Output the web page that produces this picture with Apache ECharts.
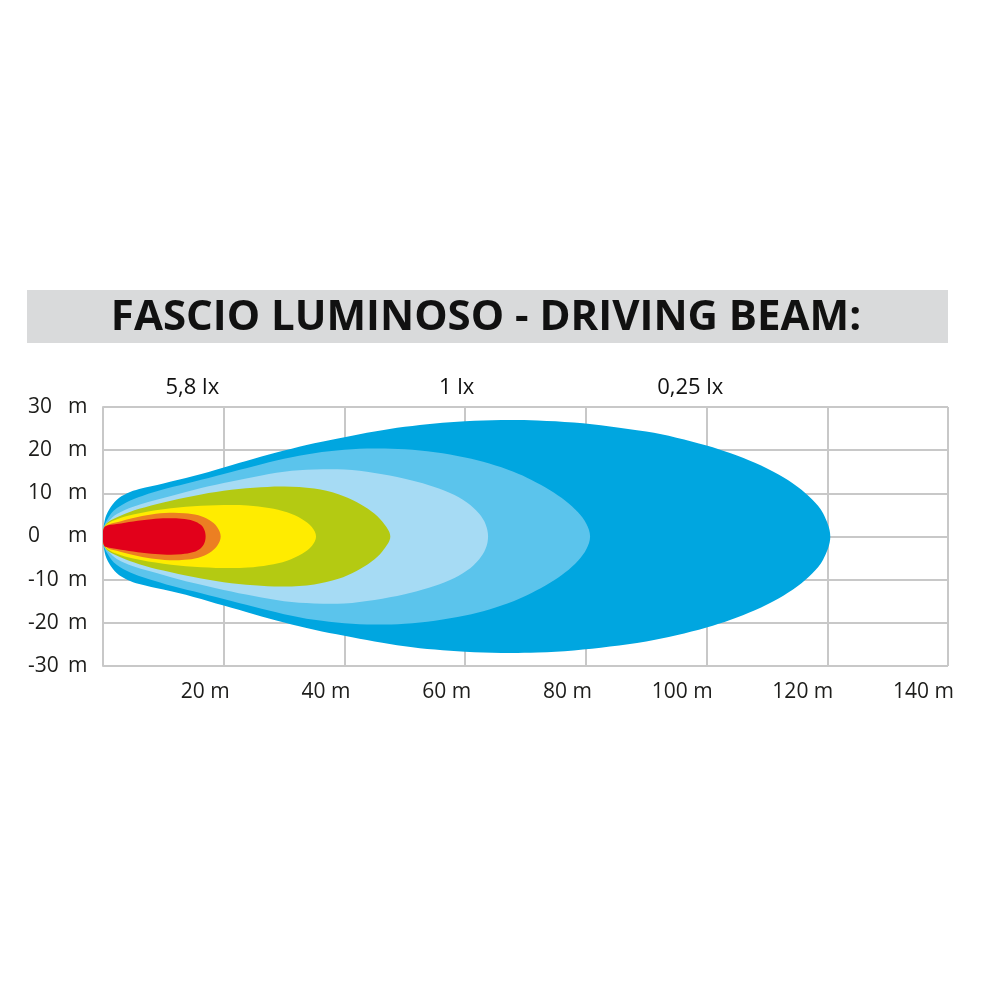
<!DOCTYPE html>
<html><head><meta charset="utf-8">
<script src="https://cdn.jsdelivr.net/npm/echarts@6/dist/echarts.min.js"></script>
<style>html,body{margin:0;padding:0;background:#fff}#c{width:1000px;height:1000px}</style>
</head><body><div id="c"></div>
<script>
// ---- data ----
const titleText = 'FASCIO LUMINOSO - DRIVING BEAM:';
const xMin = 0, xMax = 140, xStep = 20;
const yMin = -30, yMax = 30, yStep = 10;
const lxLabels = ['5,8 lx', '1 lx', '0,25 lx'];
const lxAt = [14.8, 58.6, 97.3];
// beam outlines: [distance m, half width m] (upper half, mirrored below)
const beamOuter = [[0,0],[0.3,3.8],[1,6.2],[2.3,8.5],[4,10.0],[6,11.0],[10,12.3],[15,14.0],[20,16.0],[25,18.0],[30,19.9],[35,21.6],[40,23.0],[45,24.3],[50,25.4],[55,26.2],[60,26.7],[66,27.0],[72,26.9],[78,26.4],[84,25.5],[90,24.3],[95,22.9],[100,21.1],[104,19.3],[108,17.1],[112,14.3],[115,11.6],[117.5,8.6],[119.3,5.4],[120.5,0]];
const beamMid = [[0,0],[0.2,2.4],[0.7,3.9],[1.8,6.0],[4,8.0],[6.5,9.4],[10.5,11.1],[15,12.7],[20,14.5],[25,16.3],[30,18.0],[35,19.3],[40,20.1],[45,20.4],[50,20.2],[55,19.5],[60,18.3],[64,16.9],[68,15.0],[71,13.1],[74,10.8],[76.6,8.3],[78.7,5.6],[80.1,2.9],[80.7,0]];
const beamLight = [[0,0],[0.1,2.0],[0.9,3.5],[2.3,5.2],[5,6.9],[10,8.9],[15,10.8],[20,12.4],[25,13.8],[30,15.0],[35,15.5],[40,15.5],[45,14.7],[50,13.4],[54,11.9],[57.5,10.1],[60.3,7.9],[62.3,5.3],[63.4,2.8],[63.8,0]];
const beamGreen = [[0,0],[0.1,1.9],[0.8,3.3],[2.9,4.8],[6,6.4],[10,7.9],[15,9.4],[20,10.6],[25,11.3],[30,11.6],[35,11.1],[39,9.8],[42,8.0],[44.5,5.8],[46.3,3.4],[47.6,0]];
const beamYellow = [[0,0],[0.1,1.8],[0.8,3.0],[2.3,4.0],[5,5.1],[10,6.3],[15,7.0],[20,7.3],[24,7.2],[27.5,6.6],[30.5,5.6],[33,4.0],[34.6,2.2],[35.3,0]];
const beamOrange = [[0,0],[0.1,1.7],[0.8,2.7],[2.3,3.3],[5,4.3],[8,5.1],[11,5.5],[13.5,5.4],[15.8,4.9],[17.6,3.8],[18.9,2.2],[19.5,0]];
const beamRed = [[0,0],[0.05,1.6],[0.4,2.4],[2.3,2.9],[5,3.5],[8,4.0],[10.6,4.2],[13,4.1],[15,3.6],[16.2,2.7],[16.8,1.5],[17,0]];

const beams = [beamOuter, beamMid, beamLight, beamGreen, beamYellow, beamOrange, beamRed];
const beamColors = ['#00a6e0', '#5bc4ec', '#a6dbf4', '#b4ca12', '#ffec00', '#ec7f22', '#e2001a'];

const textColor = '#1d1d1b';
const gridColor = '#c8c8c8';
const labelFont = '"Open Sans", "Liberation Sans", sans-serif';

const chart = echarts.init(document.getElementById('c'), null, {renderer: 'canvas'});

function beamSeries(pts, color) {
  return {
    type: 'custom',
    coordinateSystem: 'cartesian2d',
    silent: true,
    clip: true,
    data: [pts[0]],
    renderItem: function (params, api) {
      const upper = pts.map(p => api.coord([p[0], p[1]]));
      const lower = pts.slice(1, -1).reverse().map(p => api.coord([p[0], -p[1]]));
      return {
        type: 'polygon',
        shape: {points: upper.concat(lower), smooth: 0.35},
        style: {fill: color}
      };
    }
  };
}

const series = beams.map((b, i) => beamSeries(b, beamColors[i]));
series.push({
  type: 'scatter',
  symbol: 'circle',
  symbolSize: 1,
  silent: true,
  clip: false,
  itemStyle: {opacity: 1, color: 'rgba(0,0,0,0)'},
  data: lxAt.map((x, i) => ({value: [x, 34.5], name: lxLabels[i]})),
  label: {
    show: true, position: 'inside', formatter: p => p.name, opacity: 1,
    fontSize: 22, color: '#111111', fontFamily: labelFont, textBorderWidth: 0
  }
});

chart.setOption({
  animation: false,
  backgroundColor: '#ffffff',
  graphic: [
    {type: 'rect', shape: {x: 27, y: 290, width: 921, height: 53}, style: {fill: '#d9dadb'}, z: -1},
    {type: 'text', x: 486, y: 318, style: {
      text: titleText, fontSize: 42, fontWeight: 'bold',
      fontFamily: '"Open Sans", sans-serif',
      fill: '#111111', align: 'center', verticalAlign: 'middle'}}
  ],
  grid: {left: 103, right: 52, top: 407, bottom: 334, containLabel: false},
  xAxis: {
    type: 'value', min: xMin, max: xMax, interval: xStep,
    axisLine: {show: true, lineStyle: {color: gridColor, width: 2}},
    axisTick: {show: false},
    splitLine: {show: true, lineStyle: {color: gridColor, width: 2}},
    axisLabel: {
      formatter: v => v === 0 ? '' : v + ' m',
      align: 'right', margin: 16, padding: [0, -6, 0, 0],
      fontSize: 21, color: textColor, fontFamily: labelFont
    }
  },
  yAxis: {
    type: 'value', min: yMin, max: yMax, interval: yStep,
    axisLine: {show: true, lineStyle: {color: gridColor, width: 2}},
    axisTick: {show: false},
    splitLine: {show: true, lineStyle: {color: gridColor, width: 2}},
    axisLabel: {
      formatter: v => '{n|' + v + '}{m|m}',
      align: 'left', margin: 75,
      fontSize: 21, color: textColor, fontFamily: labelFont,
      rich: {
        n: {width: 40, align: 'left', fontSize: 21, color: textColor, fontFamily: labelFont},
        m: {fontSize: 21, color: textColor, fontFamily: labelFont}
      }
    }
  },
  series: series
});
</script>
</body></html>
